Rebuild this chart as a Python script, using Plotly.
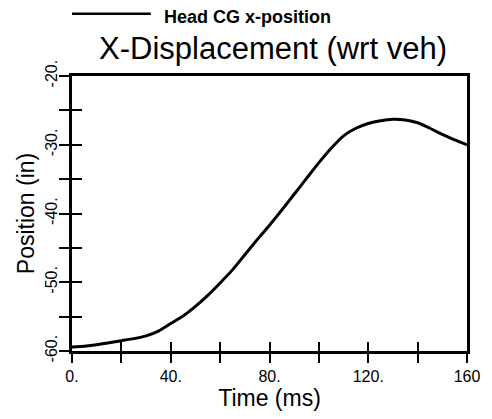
import plotly.graph_objects as go

time_ms = [0, 5, 10, 15, 20, 25, 30, 35, 40, 45, 50, 55, 60, 65, 70, 75, 80,
           85, 90, 95, 100, 105, 110, 115, 120, 125, 130, 135, 140, 145, 150, 155, 160]
head_cg_x = [-59.4, -59.3, -59.1, -58.8, -58.5, -58.2, -57.8, -57.1, -56.0, -54.9,
             -53.5, -51.9, -50.1, -48.2, -46.0, -43.8, -41.7, -39.5, -37.2, -34.9,
             -32.6, -30.5, -28.7, -27.6, -26.9, -26.5, -26.3, -26.4, -26.8, -27.6,
             -28.5, -29.3, -30.0]

x_tickvals = [0, 20, 40, 60, 80, 100, 120, 140, 160]
x_ticktext = ["0.", "", "40.", "", "80.", "", "120.", "", "160"]
y_tickvals = [-60, -55, -50, -45, -40, -35, -30, -25, -20]
y_ticktext = ["-60.", "", "-50.", "", "-40.", "", "-30.", "", "-20."]

series_name = "Head CG x-position"
title_text = "X-Displacement (wrt veh)"

FONT = "Liberation Sans, Arial, Helvetica, sans-serif"

# the page body has an 8px default margin, so the figure is drawn 8px in and down
OFF = 8
W, H = 492 - OFF, 419 - OFF
L, R, T, B = 72 - OFF, 14, 76 - OFF, 60
PW, PH = W - L - R, H - T - B

fig = go.Figure()
fig.add_trace(go.Scatter(x=time_ms, y=head_cg_x, mode="lines", name=series_name,
                         line=dict(color="black", width=3, shape="spline", smoothing=0.5),
                         showlegend=False))

common_x = dict(range=[0, 160], tickvals=x_tickvals, ticklen=9, tickwidth=2,
                tickcolor="black", showgrid=False, zeroline=False)
common_y = dict(range=[-60, -20], tickvals=y_tickvals, ticklen=10, tickwidth=2,
                tickcolor="black", showgrid=False, zeroline=False)

fig.update_layout(
    width=W, height=H,
    margin=dict(l=L, r=R, t=T, b=B),
    paper_bgcolor="white", plot_bgcolor="white",
    font=dict(family=FONT, color="black"),
    title=dict(text=title_text, font=dict(size=31, family=FONT, color="black"),
               x=(273 - OFF) / W, xref="container", xanchor="center",
               y=1 - (48 - OFF) / H, yref="container", yanchor="middle"),
    xaxis=dict(**common_x, ticktext=x_ticktext, ticks="outside",
               showline=True, linecolor="black", linewidth=3, mirror=True,
               tickfont=dict(size=16),
               title=dict(text="Time (ms)", font=dict(size=23), standoff=6)),
    xaxis2=dict(**common_x, ticks="inside", overlaying="x", anchor="y",
                side="bottom", showticklabels=False, showline=False),
    yaxis=dict(**common_y, ticktext=y_ticktext, ticks="outside",
               showline=True, linecolor="black", linewidth=3, mirror=True,
               tickangle=-90, tickfont=dict(size=16), ticklabelstandoff=-4,
               title=dict(text="Position (in)", font=dict(size=23), standoff=2)),
    yaxis2=dict(**common_y, ticks="inside", overlaying="y", anchor="x",
                side="left", showticklabels=False, showline=False),
)

# invisible trace to activate the overlaid axes carrying the inner half of the ticks
fig.add_trace(go.Scatter(x=[time_ms[0]], y=[head_cg_x[0]], xaxis="x2", yaxis="y2",
                         mode="lines", showlegend=False, hoverinfo="skip",
                         line=dict(color="rgba(0,0,0,0)")))

# legend key drawn at the top like the original
fig.add_shape(type="line", xref="paper", yref="paper",
              x0=(72 - OFF - L) / PW, x1=(153 - OFF - L) / PW,
              y0=1 + (T - (12 - OFF)) / PH, y1=1 + (T - (12 - OFF)) / PH,
              line=dict(color="black", width=2.5))
fig.add_annotation(text="<b>" + series_name + "</b>", xref="paper", yref="paper",
                   x=(165 - OFF - L) / PW, y=1 + (T - (15 - OFF)) / PH,
                   xanchor="left", yanchor="middle", showarrow=False,
                   font=dict(size=18, family=FONT, color="black"))

fig.write_html("out.html")
